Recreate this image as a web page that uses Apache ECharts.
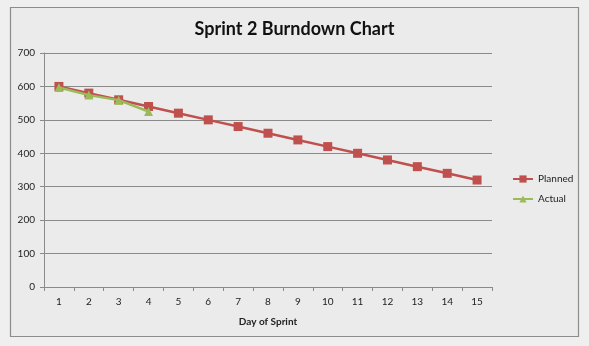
<!DOCTYPE html>
<html>
<head>
<meta charset="utf-8">
<script src="https://cdn.jsdelivr.net/npm/echarts@6/dist/echarts.min.js"></script>
<style>
  html, body { margin: 0; padding: 0; background: #efefef; }
  #chart { width: 589px; height: 346px; }
</style>
</head>
<body>
<div id="chart"></div>
<script>
// Sprint days and remaining work
const days = ['1','2','3','4','5','6','7','8','9','10','11','12','13','14','15'];
const planned = [600, 580, 560, 540, 520, 500, 480, 460, 440, 420, 400, 380, 360, 340, 320];
const actual = [597, 574, 559, 525];
const yTicks = { min: 0, max: 700, interval: 100 };

const chart = echarts.init(document.getElementById('chart'), null, { renderer: 'canvas' });
const font = 'Lato, "Open Sans", sans-serif';

chart.setOption({
  backgroundColor: '#efefef',
  animation: false,
  graphic: [{
    type: 'rect',
    z: -1,
    shape: { x: 10.5, y: 7.5, width: 568, height: 329 },
    style: { fill: '#ebebeb', stroke: '#8c8c8c', lineWidth: 1.2 }
  }],
  title: {
    text: 'Sprint 2 Burndown Chart',
    left: 'center',
    top: 15,
    textStyle: { fontFamily: font, fontSize: 18, fontWeight: 'bold', color: '#111' }
  },
  legend: {
    orient: 'vertical',
    left: 507,
    top: 169,
    itemWidth: 20,
    itemHeight: 9,
    itemGap: 10,
    textStyle: { fontFamily: font, fontSize: 10, color: '#222' },
    data: ['Planned', 'Actual']
  },
  grid: { left: 44, right: 97, top: 53, bottom: 59 },
  xAxis: {
    type: 'category',
    data: days,
    boundaryGap: true,
    name: 'Day of Sprint',
    nameLocation: 'middle',
    nameGap: 30,
    nameTextStyle: { fontFamily: font, fontSize: 10, fontWeight: 'bold', color: '#222' },
    axisLine: { lineStyle: { color: '#8a8a8a', width: 1 } },
    axisTick: { show: true, length: 4, lineStyle: { color: '#8a8a8a' } },
    axisLabel: { fontFamily: font, fontSize: 10, color: '#222', margin: 10 }
  },
  yAxis: {
    type: 'value',
    min: yTicks.min,
    max: yTicks.max,
    interval: yTicks.interval,
    axisLine: { show: true, lineStyle: { color: '#8a8a8a', width: 1 } },
    axisTick: { show: true, length: 4, lineStyle: { color: '#8a8a8a' } },
    axisLabel: { fontFamily: font, fontSize: 10, color: '#222', margin: 9 },
    splitLine: { show: true, lineStyle: { color: '#8a8a8a', width: 1 } }
  },
  series: [
    {
      name: 'Planned',
      type: 'line',
      data: planned,
      symbol: 'rect',
      symbolSize: 9,
      itemStyle: { color: '#c0504d' },
      lineStyle: { color: '#c0504d', width: 2.5 },
      z: 2
    },
    {
      name: 'Actual',
      type: 'line',
      data: actual,
      symbol: 'triangle',
      symbolSize: 9,
      itemStyle: { color: '#9bbb59' },
      lineStyle: { color: '#9bbb59', width: 2.5 },
      z: 3
    }
  ]
});
</script>
</body>
</html>
